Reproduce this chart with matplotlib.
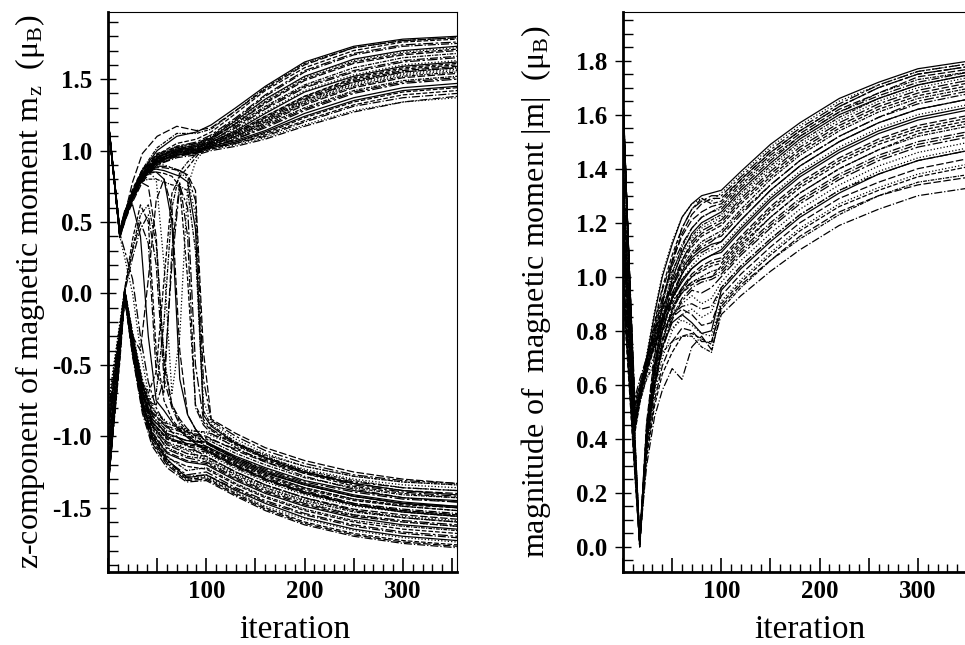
import matplotlib.pyplot as plt
from matplotlib.ticker import MultipleLocator, FuncFormatter

plt.rcParams['font.family'] = 'Liberation Serif'
plt.rcParams['font.weight'] = 'bold'
plt.rcParams['mathtext.fontset'] = 'custom'
plt.rcParams['mathtext.rm'] = 'Liberation Serif'
plt.rcParams['mathtext.default'] = 'regular'
plt.rcParams['axes.unicode_minus'] = False

# ---- left panel: z-component m_z ----
# curves that end up positive
it_up = [0, 12, 18, 25, 35, 50, 70, 90, 105, 130, 160, 200, 250, 300, 355]
mz_up = [
    [1.22, 0.40, 0.55, 0.70, 0.86, 1.00, 1.10, 1.13, 1.18, 1.30, 1.45, 1.62, 1.73, 1.78, 1.80],
    [1.21, 0.42, 0.56, 0.69, 0.84, 0.97, 1.05, 1.08, 1.13, 1.26, 1.42, 1.58, 1.70, 1.76, 1.78],
    [1.23, 0.41, 0.54, 0.68, 0.83, 0.95, 1.02, 1.05, 1.10, 1.22, 1.38, 1.55, 1.67, 1.73, 1.75],
    [1.20, 0.43, 0.57, 0.71, 0.85, 0.96, 1.01, 1.04, 1.09, 1.20, 1.35, 1.51, 1.63, 1.69, 1.72],
    [1.22, 0.39, 0.53, 0.66, 0.81, 0.93, 1.00, 1.03, 1.08, 1.19, 1.33, 1.49, 1.61, 1.67, 1.70],
    [1.21, 0.44, 0.58, 0.72, 0.86, 0.97, 1.03, 1.05, 1.09, 1.18, 1.31, 1.46, 1.58, 1.65, 1.68],
    [1.23, 0.42, 0.55, 0.67, 0.80, 0.92, 0.98, 1.02, 1.07, 1.16, 1.29, 1.44, 1.55, 1.62, 1.65],
    [1.22, 0.40, 0.54, 0.69, 0.83, 0.94, 0.99, 1.01, 1.06, 1.14, 1.26, 1.41, 1.52, 1.59, 1.62],
    [1.20, 0.45, 0.59, 0.73, 0.87, 0.98, 1.02, 1.03, 1.06, 1.13, 1.24, 1.38, 1.50, 1.57, 1.60],
    [1.22, 0.41, 0.53, 0.65, 0.79, 0.91, 0.97, 1.00, 1.05, 1.12, 1.22, 1.36, 1.48, 1.55, 1.58],
    [1.21, 0.43, 0.56, 0.70, 0.84, 0.95, 1.00, 1.02, 1.05, 1.11, 1.21, 1.34, 1.46, 1.53, 1.56],
    [1.23, 0.39, 0.52, 0.64, 0.78, 0.90, 0.96, 0.99, 1.04, 1.10, 1.19, 1.32, 1.44, 1.51, 1.54],
    [1.22, 0.42, 0.55, 0.68, 0.82, 0.93, 0.98, 1.00, 1.04, 1.09, 1.18, 1.30, 1.42, 1.49, 1.52],
    [1.20, 0.44, 0.57, 0.71, 0.85, 0.96, 1.00, 1.01, 1.03, 1.08, 1.16, 1.28, 1.40, 1.47, 1.50],
    [1.22, 0.40, 0.54, 0.67, 0.81, 0.92, 0.97, 0.99, 1.03, 1.07, 1.14, 1.26, 1.37, 1.44, 1.47],
    [1.21, 0.42, 0.56, 0.69, 0.83, 0.94, 0.99, 1.00, 1.02, 1.06, 1.12, 1.23, 1.34, 1.41, 1.44],
    [1.23, 0.41, 0.53, 0.66, 0.80, 0.91, 0.96, 0.98, 1.02, 1.05, 1.10, 1.20, 1.31, 1.37, 1.40],
    [1.22, 0.43, 0.55, 0.68, 0.82, 0.93, 0.97, 0.98, 1.01, 1.04, 1.09, 1.18, 1.28, 1.34, 1.37],
    [1.22, 0.41, 0.58, 0.78, 0.98, 1.10, 1.17, 1.14, 1.16, 1.28, 1.43, 1.60, 1.72, 1.77, 1.79],
    [1.21, 0.41, 0.56, 0.71, 0.87, 1.02, 1.12, 1.12, 1.15, 1.28, 1.44, 1.61, 1.72, 1.77, 1.79],
    [1.22, 0.44, 0.57, 0.70, 0.83, 0.95, 1.03, 1.06, 1.11, 1.23, 1.39, 1.56, 1.68, 1.74, 1.76],
    [1.23, 0.40, 0.53, 0.67, 0.82, 0.95, 1.01, 1.04, 1.09, 1.21, 1.36, 1.52, 1.64, 1.70, 1.73],
    [1.20, 0.42, 0.56, 0.70, 0.84, 0.95, 1.00, 1.03, 1.08, 1.19, 1.34, 1.50, 1.62, 1.68, 1.71],
    [1.22, 0.43, 0.56, 0.69, 0.82, 0.93, 0.99, 1.02, 1.07, 1.17, 1.30, 1.45, 1.56, 1.63, 1.66],
    [1.21, 0.41, 0.54, 0.68, 0.82, 0.93, 0.98, 1.01, 1.06, 1.15, 1.27, 1.42, 1.53, 1.60, 1.63],
    [1.23, 0.44, 0.58, 0.72, 0.86, 0.97, 1.01, 1.02, 1.05, 1.12, 1.23, 1.37, 1.49, 1.56, 1.59],
    [1.22, 0.40, 0.53, 0.66, 0.80, 0.92, 0.98, 1.00, 1.04, 1.10, 1.20, 1.33, 1.45, 1.52, 1.55],
    [1.20, 0.43, 0.56, 0.69, 0.83, 0.94, 0.99, 1.00, 1.03, 1.08, 1.17, 1.29, 1.41, 1.48, 1.51],
    [1.22, 0.42, 0.55, 0.67, 0.81, 0.92, 0.97, 0.99, 1.02, 1.06, 1.13, 1.24, 1.35, 1.42, 1.45],
    [1.21, 0.40, 0.54, 0.68, 0.82, 0.93, 0.97, 0.98, 1.01, 1.05, 1.11, 1.21, 1.32, 1.39, 1.42],
    [1.23, 0.43, 0.55, 0.67, 0.80, 0.90, 0.95, 0.97, 1.00, 1.03, 1.08, 1.17, 1.27, 1.34, 1.38],
]

# curves that end up negative
it_dn = [0, 17, 25, 35, 45, 60, 80, 100, 130, 160, 200, 250, 300, 355]
mz_dn = [
    [-0.78, 0.03, -0.27, -0.60, -0.80, -0.90, -0.95, -0.98, -1.07, -1.15, -1.23, -1.30, -1.34, -1.36],
    [-1.30, 0.01, -0.30, -0.64, -0.83, -0.93, -0.97, -1.00, -1.10, -1.18, -1.26, -1.33, -1.38, -1.40],
    [-0.95, 0.00, -0.33, -0.67, -0.86, -0.96, -1.00, -1.02, -1.12, -1.20, -1.29, -1.36, -1.41, -1.43],
    [-1.36, -0.02, -0.35, -0.70, -0.88, -0.99, -1.03, -1.05, -1.15, -1.23, -1.32, -1.39, -1.44, -1.46],
    [-1.10, 0.02, -0.32, -0.68, -0.90, -1.01, -1.05, -1.07, -1.17, -1.26, -1.34, -1.42, -1.47, -1.49],
    [-1.34, 0.00, -0.37, -0.72, -0.91, -1.02, -1.06, -1.08, -1.19, -1.28, -1.37, -1.45, -1.49, -1.52],
    [-0.85, 0.03, -0.28, -0.63, -0.85, -1.00, -1.07, -1.10, -1.21, -1.30, -1.39, -1.47, -1.51, -1.54],
    [-1.37, -0.03, -0.40, -0.75, -0.94, -1.05, -1.10, -1.12, -1.23, -1.32, -1.41, -1.49, -1.53, -1.56],
    [-1.20, 0.01, -0.34, -0.71, -0.92, -1.06, -1.12, -1.14, -1.25, -1.34, -1.43, -1.51, -1.55, -1.58],
    [-1.35, -0.01, -0.38, -0.74, -0.95, -1.08, -1.14, -1.16, -1.27, -1.36, -1.45, -1.53, -1.57, -1.60],
    [-1.00, 0.02, -0.31, -0.69, -0.93, -1.09, -1.15, -1.18, -1.29, -1.38, -1.47, -1.55, -1.59, -1.62],
    [-1.36, -0.02, -0.41, -0.78, -0.98, -1.12, -1.18, -1.20, -1.31, -1.40, -1.49, -1.57, -1.62, -1.65],
    [-1.28, 0.00, -0.39, -0.77, -1.00, -1.15, -1.21, -1.23, -1.34, -1.43, -1.52, -1.60, -1.65, -1.68],
    [-1.37, -0.03, -0.43, -0.80, -1.02, -1.18, -1.28, -1.27, -1.37, -1.46, -1.55, -1.63, -1.68, -1.71],
    [-0.90, 0.01, -0.36, -0.76, -1.00, -1.17, -1.30, -1.28, -1.39, -1.49, -1.58, -1.66, -1.71, -1.74],
    [-1.35, -0.02, -0.42, -0.82, -1.05, -1.20, -1.31, -1.30, -1.41, -1.51, -1.61, -1.69, -1.74, -1.77],
    [-1.25, 0.02, -0.29, -0.62, -0.81, -0.91, -0.96, -0.97, -1.05, -1.13, -1.21, -1.28, -1.32, -1.34],
    [-0.88, 0.00, -0.31, -0.65, -0.84, -0.94, -0.98, -1.01, -1.09, -1.17, -1.25, -1.32, -1.36, -1.38],
    [-1.32, -0.01, -0.34, -0.69, -0.88, -0.98, -1.03, -1.04, -1.14, -1.22, -1.31, -1.38, -1.43, -1.45],
    [-1.05, 0.03, -0.33, -0.69, -0.90, -1.02, -1.06, -1.08, -1.18, -1.27, -1.36, -1.44, -1.48, -1.50],
    [-1.37, -0.02, -0.38, -0.73, -0.93, -1.04, -1.09, -1.11, -1.22, -1.31, -1.40, -1.48, -1.52, -1.55],
    [-0.80, 0.02, -0.30, -0.66, -0.90, -1.05, -1.12, -1.15, -1.26, -1.35, -1.44, -1.52, -1.56, -1.59],
    [-1.33, -0.01, -0.40, -0.77, -0.97, -1.11, -1.17, -1.19, -1.30, -1.39, -1.48, -1.56, -1.60, -1.63],
    [-1.15, 0.01, -0.37, -0.76, -0.99, -1.14, -1.24, -1.22, -1.33, -1.42, -1.51, -1.59, -1.63, -1.66],
    [-1.36, -0.03, -0.42, -0.80, -1.02, -1.17, -1.27, -1.25, -1.36, -1.45, -1.54, -1.62, -1.67, -1.70],
    [-0.98, 0.02, -0.35, -0.75, -1.00, -1.16, -1.29, -1.27, -1.38, -1.47, -1.57, -1.65, -1.70, -1.73],
    [-1.30, -0.02, -0.41, -0.81, -1.04, -1.19, -1.30, -1.29, -1.40, -1.50, -1.60, -1.68, -1.73, -1.76],
    [-1.37, -0.03, -0.44, -0.84, -1.07, -1.22, -1.32, -1.31, -1.42, -1.52, -1.62, -1.70, -1.75, -1.78],
]

# curves that flip sign between iteration 30 and 100
it_sw = [0, 12, 17, 25, 33, 41, 49, 57, 65, 73, 81, 89, 97, 105, 130, 160, 200, 250, 300, 355]
mz_sw = [
    [1.22, 0.42, 0.56, 0.70, 0.82, 0.88, 0.90, 0.90, 0.88, 0.85, 0.80, 0.55, -0.75, -0.90, -1.02, -1.12, -1.21, -1.28, -1.32, -1.34],
    [1.21, 0.41, 0.55, 0.68, 0.80, 0.86, 0.88, 0.88, 0.87, 0.86, 0.83, 0.72, -0.40, -0.88, -0.98, -1.08, -1.17, -1.25, -1.30, -1.33],
    [-1.30, -0.46, 0.02, 0.32, 0.55, 0.62, 0.35, -0.45, -0.78, -0.90, -0.97, -1.02, -1.06, -1.09, -1.18, -1.27, -1.36, -1.44, -1.49, -1.52],
    [1.22, 0.42, 0.30, 0.10, -0.30, -0.62, -0.80, -0.90, -0.97, -1.02, -1.06, -1.10, -1.13, -1.16, -1.25, -1.34, -1.43, -1.52, -1.57, -1.60],
    [1.22, 0.43, 0.56, 0.69, 0.80, 0.85, 0.85, 0.80, 0.50, -0.60, -0.85, -0.95, -1.02, -1.06, -1.15, -1.24, -1.33, -1.41, -1.46, -1.49],
    [-1.35, -0.48, -0.02, -0.35, -0.60, -0.70, -0.55, 0.10, 0.70, 0.82, 0.88, 0.95, 1.02, 1.06, 1.13, 1.24, 1.38, 1.51, 1.58, 1.61],
    [-1.10, -0.40, 0.03, 0.30, 0.50, 0.35, -0.55, -0.70, 0.30, 0.78, 0.40, -0.80, -0.92, -0.98, -1.08, -1.18, -1.28, -1.37, -1.43, -1.46],
    [1.22, 0.40, 0.55, 0.68, 0.80, 0.85, 0.80, 0.20, -0.70, -0.30, 0.75, 0.92, 1.00, 1.04, 1.10, 1.20, 1.34, 1.47, 1.54, 1.57],
    [-0.95, -0.35, 0.00, -0.30, -0.40, 0.10, 0.65, 0.80, 0.60, -0.40, -0.85, -0.95, -1.02, -1.07, -1.16, -1.25, -1.34, -1.42, -1.47, -1.50],
    [1.21, 0.44, 0.57, 0.70, 0.78, 0.80, 0.80, 0.78, 0.76, 0.75, 0.72, 0.30, -0.82, -0.92, -1.04, -1.14, -1.24, -1.31, -1.36, -1.38],
    [1.22, 0.43, 0.57, 0.70, 0.81, 0.87, 0.89, 0.89, 0.88, 0.86, 0.82, 0.65, -0.60, -0.89, -1.00, -1.10, -1.19, -1.27, -1.31, -1.33],
    [1.22, 0.42, 0.55, 0.69, 0.81, 0.86, 0.87, 0.86, 0.84, 0.82, 0.78, 0.45, -0.85, -0.93, -1.05, -1.15, -1.25, -1.33, -1.38, -1.41],
    [1.21, 0.41, 0.55, 0.68, 0.79, 0.84, 0.85, 0.84, 0.82, 0.75, 0.10, -0.78, -0.90, -0.96, -1.06, -1.16, -1.26, -1.35, -1.40, -1.43],
    [-1.25, -0.42, 0.01, 0.25, 0.45, 0.55, 0.20, -0.60, -0.80, -0.92, -0.99, -1.04, -1.08, -1.11, -1.20, -1.29, -1.38, -1.47, -1.52, -1.55],
    [1.21, 0.40, 0.25, 0.00, -0.40, -0.70, -0.85, -0.95, -1.01, -1.06, -1.10, -1.13, -1.16, -1.19, -1.28, -1.37, -1.46, -1.55, -1.60, -1.63],
    [1.22, 0.43, 0.56, 0.68, 0.78, 0.75, 0.40, -0.50, -0.78, -0.88, -0.95, -1.00, -1.04, -1.07, -1.16, -1.25, -1.34, -1.42, -1.47, -1.50],
    [-1.20, -0.42, 0.02, -0.32, -0.62, -0.75, -0.70, -0.20, 0.60, 0.85, 0.92, 0.97, 1.02, 1.05, 1.11, 1.21, 1.35, 1.48, 1.55, 1.58],
    [-0.90, -0.33, 0.01, -0.33, -0.62, -0.76, -0.78, -0.60, 0.20, 0.75, 0.60, -0.50, -0.88, -0.95, -1.05, -1.15, -1.25, -1.34, -1.39, -1.42],
    [1.23, 0.44, 0.58, 0.62, 0.40, -0.30, -0.75, -0.82, -0.90, -0.96, -1.01, -1.05, -1.09, -1.12, -1.21, -1.30, -1.39, -1.48, -1.53, -1.56],
    [-1.15, -0.40, 0.03, 0.38, 0.62, 0.50, -0.40, -0.75, -0.88, -0.95, -1.00, -1.05, -1.08, -1.11, -1.20, -1.30, -1.40, -1.48, -1.53, -1.56],
]

# ---- right panel: magnitude |m| ----
it_m = [0, 12, 17, 24, 32, 40, 50, 60, 70, 80, 90, 100, 120, 150, 180, 220, 260, 300, 355]
m_abs = [
    [1.66, 0.45, 0.56, 0.70, 0.86, 1.00, 1.12, 1.22, 1.27, 1.30, 1.31, 1.32, 1.39, 1.49, 1.57, 1.66, 1.72, 1.77, 1.80],
    [1.64, 0.47, 0.57, 0.69, 0.83, 0.96, 1.08, 1.18, 1.25, 1.29, 1.27, 1.28, 1.36, 1.46, 1.54, 1.63, 1.70, 1.75, 1.78],
    [1.67, 0.43, 0.55, 0.68, 0.80, 0.92, 1.04, 1.12, 1.18, 1.22, 1.24, 1.25, 1.33, 1.43, 1.52, 1.61, 1.67, 1.72, 1.76],
    [1.62, 0.50, 0.58, 0.68, 0.79, 0.90, 1.00, 1.08, 1.14, 1.18, 1.20, 1.22, 1.30, 1.40, 1.49, 1.58, 1.65, 1.70, 1.74],
    [1.65, 0.46, 0.56, 0.67, 0.78, 0.88, 0.98, 1.06, 1.12, 1.16, 1.18, 1.20, 1.28, 1.38, 1.47, 1.56, 1.63, 1.68, 1.72],
    [1.60, 0.52, 0.60, 0.70, 0.80, 0.89, 0.97, 1.04, 1.09, 1.13, 1.15, 1.17, 1.25, 1.36, 1.45, 1.54, 1.61, 1.66, 1.70],
    [1.68, 0.44, 0.54, 0.65, 0.76, 0.85, 0.94, 1.01, 1.06, 1.09, 1.11, 1.13, 1.21, 1.32, 1.41, 1.50, 1.57, 1.62, 1.66],
    [1.63, 0.48, 0.57, 0.67, 0.77, 0.85, 0.92, 0.98, 1.03, 1.06, 1.08, 1.09, 1.17, 1.28, 1.37, 1.46, 1.53, 1.58, 1.62],
    [1.66, 0.42, 0.53, 0.64, 0.74, 0.83, 0.90, 0.96, 1.00, 1.02, 1.04, 1.05, 1.13, 1.24, 1.33, 1.42, 1.49, 1.54, 1.58],
    [1.61, 0.55, 0.62, 0.70, 0.78, 0.85, 0.91, 0.95, 0.98, 0.99, 1.00, 1.02, 1.10, 1.20, 1.29, 1.38, 1.45, 1.50, 1.54],
    [1.65, 0.45, 0.55, 0.66, 0.75, 0.82, 0.87, 0.90, 0.93, 0.90, 0.92, 0.98, 1.06, 1.16, 1.25, 1.34, 1.41, 1.46, 1.50],
    [1.64, 0.49, 0.57, 0.66, 0.74, 0.80, 0.85, 0.88, 0.86, 0.82, 0.83, 0.93, 1.01, 1.11, 1.20, 1.29, 1.35, 1.40, 1.44],
    [1.66, 0.43, 0.54, 0.62, 0.68, 0.72, 0.76, 0.78, 0.78, 0.74, 0.72, 0.88, 0.96, 1.06, 1.14, 1.23, 1.30, 1.35, 1.38],
    [1.00, 0.30, 0.01, 0.45, 0.70, 0.90, 1.06, 1.18, 1.25, 1.28, 1.30, 1.30, 1.37, 1.47, 1.55, 1.64, 1.71, 1.76, 1.79],
    [1.20, 0.35, 0.02, 0.42, 0.66, 0.84, 0.99, 1.09, 1.16, 1.20, 1.22, 1.24, 1.32, 1.42, 1.51, 1.60, 1.66, 1.71, 1.75],
    [1.40, 0.40, 0.03, 0.44, 0.67, 0.83, 0.96, 1.05, 1.11, 1.15, 1.17, 1.19, 1.27, 1.37, 1.46, 1.55, 1.62, 1.67, 1.71],
    [0.98, 0.28, 0.00, 0.40, 0.63, 0.80, 0.93, 1.02, 1.08, 1.12, 1.14, 1.15, 1.23, 1.34, 1.43, 1.52, 1.59, 1.64, 1.68],
    [1.30, 0.37, 0.02, 0.43, 0.65, 0.80, 0.91, 0.99, 1.04, 1.08, 1.10, 1.11, 1.19, 1.30, 1.39, 1.48, 1.55, 1.60, 1.64],
    [1.10, 0.33, 0.01, 0.38, 0.60, 0.76, 0.88, 0.96, 1.01, 1.04, 1.06, 1.07, 1.15, 1.26, 1.35, 1.44, 1.51, 1.56, 1.60],
    [1.45, 0.42, 0.03, 0.41, 0.62, 0.77, 0.88, 0.94, 0.98, 1.00, 1.02, 1.03, 1.11, 1.22, 1.31, 1.40, 1.47, 1.52, 1.56],
    [1.05, 0.31, 0.00, 0.37, 0.58, 0.73, 0.84, 0.91, 0.95, 0.94, 0.96, 1.00, 1.08, 1.18, 1.27, 1.36, 1.43, 1.48, 1.52],
    [1.25, 0.36, 0.02, 0.40, 0.60, 0.74, 0.83, 0.86, 0.83, 0.79, 0.80, 0.95, 1.03, 1.13, 1.22, 1.31, 1.38, 1.43, 1.47],
    [0.95, 0.27, 0.01, 0.33, 0.52, 0.64, 0.72, 0.78, 0.79, 0.77, 0.75, 0.90, 0.98, 1.08, 1.17, 1.26, 1.32, 1.37, 1.41],
    [1.15, 0.34, 0.02, 0.30, 0.48, 0.58, 0.66, 0.62, 0.74, 0.78, 0.73, 0.86, 0.93, 1.02, 1.10, 1.19, 1.25, 1.30, 1.33],
    [1.67, 0.46, 0.57, 0.71, 0.87, 1.01, 1.13, 1.22, 1.27, 1.29, 1.28, 1.31, 1.38, 1.48, 1.56, 1.65, 1.71, 1.76, 1.79],
    [1.63, 0.44, 0.55, 0.68, 0.82, 0.95, 1.06, 1.15, 1.21, 1.24, 1.26, 1.27, 1.35, 1.45, 1.53, 1.62, 1.68, 1.74, 1.77],
    [1.65, 0.48, 0.58, 0.69, 0.81, 0.92, 1.02, 1.10, 1.15, 1.19, 1.21, 1.23, 1.31, 1.41, 1.50, 1.59, 1.66, 1.71, 1.75],
    [1.61, 0.53, 0.60, 0.69, 0.79, 0.88, 0.96, 1.03, 1.08, 1.11, 1.13, 1.16, 1.24, 1.34, 1.43, 1.52, 1.59, 1.65, 1.69],
    [1.66, 0.45, 0.55, 0.65, 0.75, 0.84, 0.92, 0.99, 1.03, 1.06, 1.08, 1.10, 1.18, 1.29, 1.38, 1.47, 1.54, 1.59, 1.63],
    [1.64, 0.47, 0.56, 0.66, 0.75, 0.83, 0.89, 0.94, 0.97, 0.99, 1.00, 1.04, 1.12, 1.22, 1.31, 1.40, 1.47, 1.53, 1.57],
    [1.62, 0.51, 0.59, 0.67, 0.75, 0.81, 0.86, 0.89, 0.90, 0.88, 0.89, 0.96, 1.04, 1.14, 1.23, 1.32, 1.38, 1.43, 1.47],
    [1.67, 0.43, 0.53, 0.63, 0.71, 0.77, 0.81, 0.84, 0.82, 0.79, 0.78, 0.91, 0.99, 1.09, 1.18, 1.27, 1.33, 1.38, 1.42],
    [1.35, 0.38, 0.02, 0.46, 0.71, 0.90, 1.05, 1.16, 1.23, 1.27, 1.29, 1.29, 1.36, 1.46, 1.54, 1.63, 1.70, 1.75, 1.78],
    [1.02, 0.30, 0.01, 0.43, 0.67, 0.86, 1.01, 1.11, 1.18, 1.22, 1.24, 1.26, 1.34, 1.44, 1.52, 1.61, 1.68, 1.73, 1.76],
    [1.22, 0.35, 0.02, 0.42, 0.65, 0.82, 0.96, 1.06, 1.13, 1.17, 1.19, 1.21, 1.29, 1.39, 1.48, 1.57, 1.64, 1.69, 1.73],
    [1.42, 0.41, 0.03, 0.42, 0.64, 0.80, 0.92, 1.01, 1.07, 1.10, 1.12, 1.13, 1.21, 1.32, 1.41, 1.50, 1.57, 1.62, 1.66],
    [0.97, 0.28, 0.00, 0.39, 0.60, 0.76, 0.87, 0.95, 1.00, 1.03, 1.05, 1.06, 1.14, 1.25, 1.34, 1.43, 1.50, 1.55, 1.59],
    [1.28, 0.36, 0.02, 0.39, 0.59, 0.74, 0.85, 0.92, 0.96, 0.98, 0.99, 1.01, 1.09, 1.19, 1.28, 1.37, 1.44, 1.49, 1.53],
    [1.12, 0.33, 0.01, 0.36, 0.56, 0.70, 0.80, 0.86, 0.88, 0.85, 0.87, 0.96, 1.04, 1.14, 1.23, 1.32, 1.39, 1.44, 1.48],
    [1.38, 0.39, 0.02, 0.35, 0.54, 0.67, 0.76, 0.81, 0.80, 0.76, 0.76, 0.89, 0.97, 1.06, 1.15, 1.24, 1.30, 1.34, 1.37],
]

styles = ['-', '--', '-.', ':', (0, (6, 2)), (0, (3, 1, 1, 1)), (0, (8, 2, 2, 2))]

fig = plt.figure(figsize=(9.65, 6.45), dpi=100)
ax1 = fig.add_axes([108/965, 1 - 572/645, 349/965, 560/645])
ax2 = fig.add_axes([623/965, 1 - 572/645, 349/965, 560/645])

k = 0
for group, its in ((mz_up, it_up), (mz_dn, it_dn), (mz_sw, it_sw)):
    for c in group:
        ax1.plot(its, c, color='black', lw=0.9, ls=styles[k % len(styles)])
        k += 1
for i, c in enumerate(m_abs):
    ax2.plot(it_m, c, color='black', lw=0.9, ls=styles[i % len(styles)])

ax1.set_xlim(0, 355)
ax1.set_ylim(-1.95, 1.97)
ax2.set_xlim(0, 355)
ax2.set_ylim(-0.093, 1.98)

xfmt = FuncFormatter(lambda v, p: '%d' % v if v > 0 and v % 100 == 0 else '')
for ax, ymaj, ymin in ((ax1, 0.5, 0.1), (ax2, 0.2, 0.05)):
    ax.xaxis.set_major_locator(MultipleLocator(50))
    ax.xaxis.set_minor_locator(MultipleLocator(10))
    ax.xaxis.set_major_formatter(xfmt)
    ax.yaxis.set_major_locator(MultipleLocator(ymaj))
    ax.yaxis.set_minor_locator(MultipleLocator(ymin))
    ax.yaxis.set_major_formatter(FuncFormatter(lambda v, p: '%.1f' % v))
    ax.tick_params(axis='both', which='both', labelsize=18, top=False, right=False)
    ax.tick_params(axis='x', which='major', direction='in', length=10, width=1.2, pad=6)
    ax.tick_params(axis='x', which='minor', direction='in', length=6, width=1.0)
    ax.tick_params(axis='y', which='major', direction='inout', length=11, width=1.0, pad=6)
    ax.tick_params(axis='y', which='minor', direction='in', length=7, width=1.0)
    ax.spines['left'].set_linewidth(2)
    ax.spines['bottom'].set_linewidth(2)
    ax.spines['top'].set_linewidth(0.8)
    ax.spines['right'].set_linewidth(0.8)
    ax.set_xlabel('iteration', fontsize=24, fontweight='normal')
    ax.xaxis.set_label_coords(0.536, -0.075)

ax1.set_ylabel('z-component of magnetic moment $m_z$  ($μ_B$)', fontsize=23, fontweight='normal')
ax1.yaxis.set_label_coords(-0.176, 0.5)
ax2.set_ylabel('magnitude of  magnetic moment |m|  ($μ_B$)', fontsize=23, fontweight='normal')
ax2.yaxis.set_label_coords(-0.202, 0.5)

fig.savefig('out.png', dpi=100)
